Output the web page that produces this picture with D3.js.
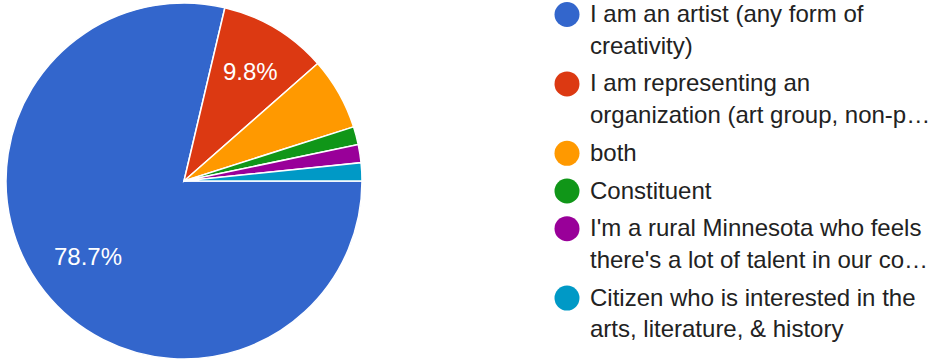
<!DOCTYPE html>
<html>
<head>
<meta charset="utf-8">
<script src="https://cdn.jsdelivr.net/npm/d3@7"></script>
<style>
  html, body { margin: 0; padding: 0; background: #fff; }
  svg { display: block; font-family: Arial, "Liberation Sans", sans-serif; }
</style>
</head>
<body>
<svg id="chart" width="930" height="360"></svg>
<script>
// Survey responses: who is answering
const categories = [
  "I am an artist (any form of creativity)",
  "I am representing an organization (art group, non-profit)",
  "both",
  "Constituent",
  "I'm a rural Minnesota who feels there's a lot of talent in our community",
  "Citizen who is interested in the arts, literature, & history"
];
// Legend text as displayed (wrapped / truncated)
const legendLines = [
  ["I am an artist (any form of", "creativity)"],
  ["I am representing an", "organization (art group, non-p\u2026"],
  ["both"],
  ["Constituent"],
  ["I'm a rural Minnesota who feels", "there's a lot of talent in our co\u2026"],
  ["Citizen who is interested in the", "arts, literature, & history"]
];
const counts = [48, 6, 4, 1, 1, 1];
const colors = ["#3366cc", "#dc3912", "#ff9900", "#109618", "#990099", "#0099c6"];

const svg = d3.select("#chart");
const cx = 184, cy = 181, radius = 178;
const total = d3.sum(counts);

const pie = d3.pie()
  .sort(null)
  .value(d => d)
  .startAngle(Math.PI / 2)
  .endAngle(Math.PI / 2 + 2 * Math.PI);

const arcs = pie(counts);
const arc = d3.arc().innerRadius(0).outerRadius(radius);
const labelArc = d3.arc().innerRadius(125).outerRadius(125);

const g = svg.append("g").attr("transform", `translate(${cx},${cy})`);

g.selectAll("path.slice")
  .data(arcs)
  .join("path")
  .attr("class", "slice")
  .attr("d", arc)
  .attr("fill", (d, i) => colors[i])
  .attr("stroke", "#fff")
  .attr("stroke-width", 1.5);

// Percentage labels for slices large enough to hold them
g.selectAll("text.pct")
  .data(arcs.filter(d => d.value / total > 0.08))
  .join("text")
  .attr("class", "pct")
  .attr("transform", d => {
    const [x, y] = labelArc.centroid(d);
    return `translate(${x + 2},${y - 2})`;
  })
  .attr("text-anchor", "middle")
  .attr("dy", "0.36em")
  .attr("fill", "#fff")
  .attr("font-size", 24)
  .text(d => (d.value / total * 100).toFixed(1) + "%");

// Legend
const legendX = 567, textX = 590;
const lineH = 31.7, itemGap = 37.7;
let baseline = 22;
const legend = svg.append("g");
legendLines.forEach((lines, i) => {
  const item = legend.append("g");
  item.append("circle")
    .attr("cx", legendX)
    .attr("cy", baseline - 7.5)
    .attr("r", 12.5)
    .attr("fill", colors[i]);
  lines.forEach((ln, j) => {
    item.append("text")
      .attr("x", textX)
      .attr("y", baseline + j * lineH)
      .attr("font-size", 24)
      .attr("fill", "#222")
      .text(ln);
  });
  baseline += (lines.length - 1) * lineH + itemGap;
});
</script>
</body>
</html>
